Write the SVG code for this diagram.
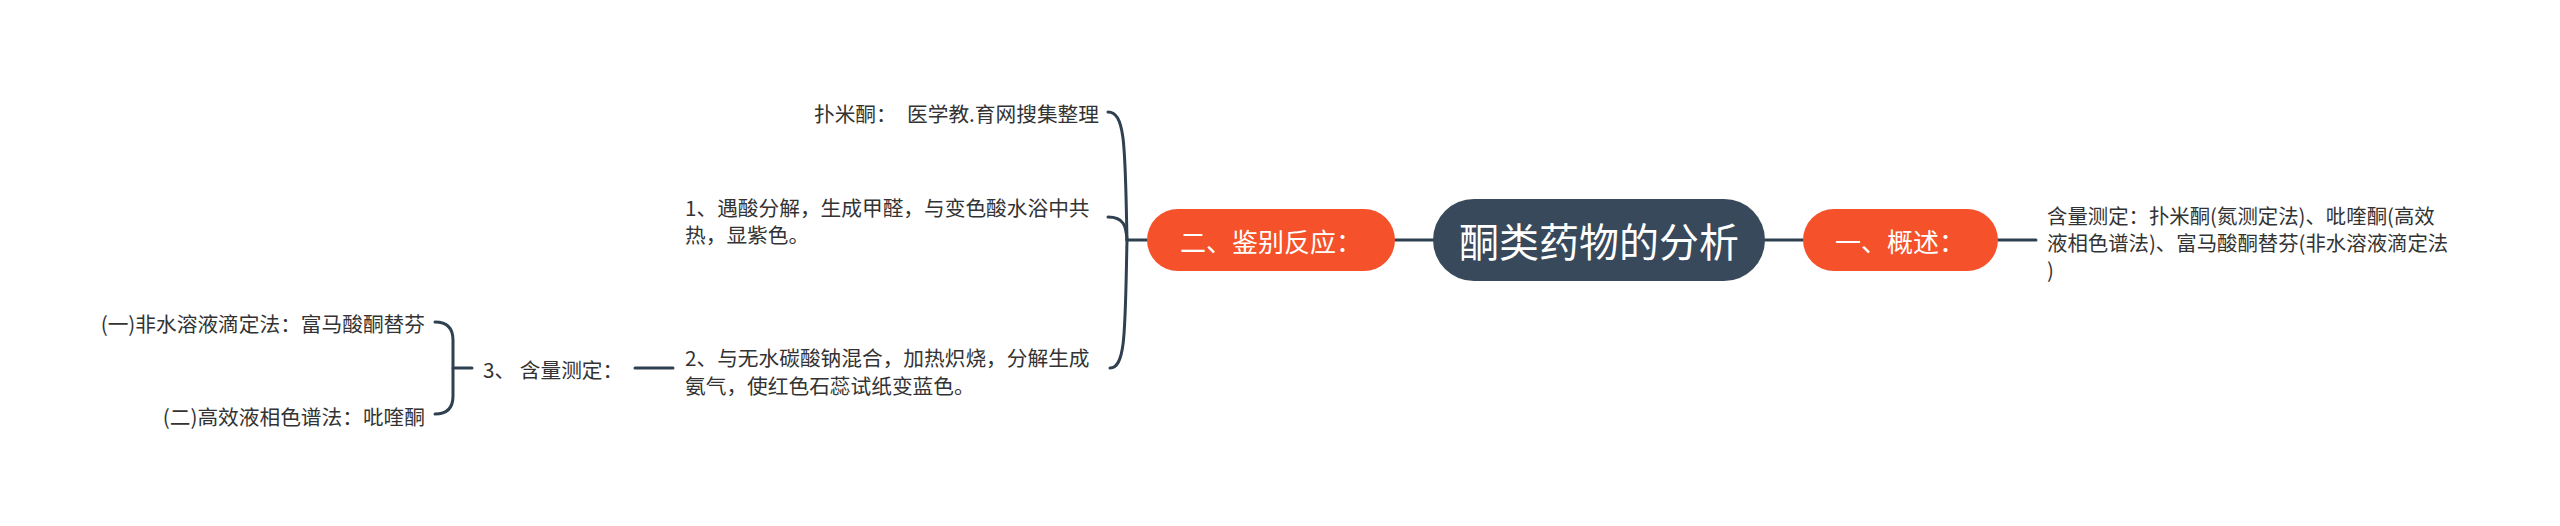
<svg xmlns="http://www.w3.org/2000/svg" width="2560" height="526" viewBox="0 0 2560 526">
<style>
.t{font-family:"Noto Sans CJK SC","Liberation Sans",sans-serif;font-size:20.7px;fill:#333333;dominant-baseline:central}
.r{font-size:20.4px}
.w{font-family:"Noto Sans CJK SC","Liberation Sans",sans-serif;fill:#ffffff;dominant-baseline:central;text-anchor:middle}
.c{fill:none;stroke:#2f4050;stroke-width:3;stroke-linecap:round}
.main{fill:#37495b}
.sub{fill:#f5512a}
</style>
<rect width="2560" height="526" fill="#ffffff"/>
<g id="connectors">
<path class="c" d="M1395,240 L1433,240"/>
<path class="c" d="M1765,240 L1803,240"/>
<path class="c" d="M1998,240 L2036,240"/>
<path class="c" d="M1147,240 L1127,240"/>
<path class="c" d="M1127,240 C1125,150 1126,112 1108,112"/>
<path class="c" d="M1127,240 C1126,226 1124,217 1108,217"/>
<path class="c" d="M1127,240 C1125,330 1126,368 1110,368"/>
<path class="c" d="M635,368 L673,368"/>
<path class="c" d="M472,368 L453,368"/>
<path class="c" d="M435,322 Q453,322 453,340 L453,396 Q453,414 435,414"/>
</g>
<g id="root">
<rect class="main" x="1433" y="199" width="332" height="82" rx="41"/>
<text class="w" x="1599" y="240" font-size="40">酮类药物的分析</text>
</g>
<g id="n-jianbie">
<rect class="sub" x="1147" y="209" width="248" height="62" rx="31"/>
<text class="w" x="1271" y="240" font-size="26">二、鉴别反应：</text>
</g>
<g id="n-gaishu">
<rect class="sub" x="1803" y="209" width="195" height="62" rx="31"/>
<text class="w" x="1900" y="240" font-size="26">一、概述：</text>
</g>
<g id="n-gaishu-text">
<text class="t r" x="2047" y="215">含量测定：扑米酮(氮测定法)、吡喹酮(高效</text>
<text class="t r" x="2047" y="242">液相色谱法)、富马酸酮替芬(非水溶液滴定法</text>
<text class="t r" x="2047" y="269">)</text>
</g>
<g id="n-pumitong">
<text class="t" x="1099" y="113" text-anchor="end">扑米酮：　医学教.育网搜集整理</text>
</g>
<g id="n-1">
<text class="t" x="685" y="207">1、遇酸分解，生成甲醛，与变色酸水浴中共</text>
<text class="t" x="685" y="234">热，显紫色。</text>
</g>
<g id="n-2">
<text class="t" x="685" y="357">2、与无水碳酸钠混合，加热炽烧，分解生成</text>
<text class="t" x="685" y="385">氨气，使红色石蕊试纸变蓝色。</text>
</g>
<g id="n-3">
<text class="t" x="483" y="369">3、 含量测定：</text>
</g>
<g id="n-3-1">
<text class="t" x="425" y="323" text-anchor="end">(一)非水溶液滴定法：富马酸酮替芬</text>
</g>
<g id="n-3-2">
<text class="t" x="425" y="416" text-anchor="end">(二)高效液相色谱法：吡喹酮</text>
</g>
</svg>
